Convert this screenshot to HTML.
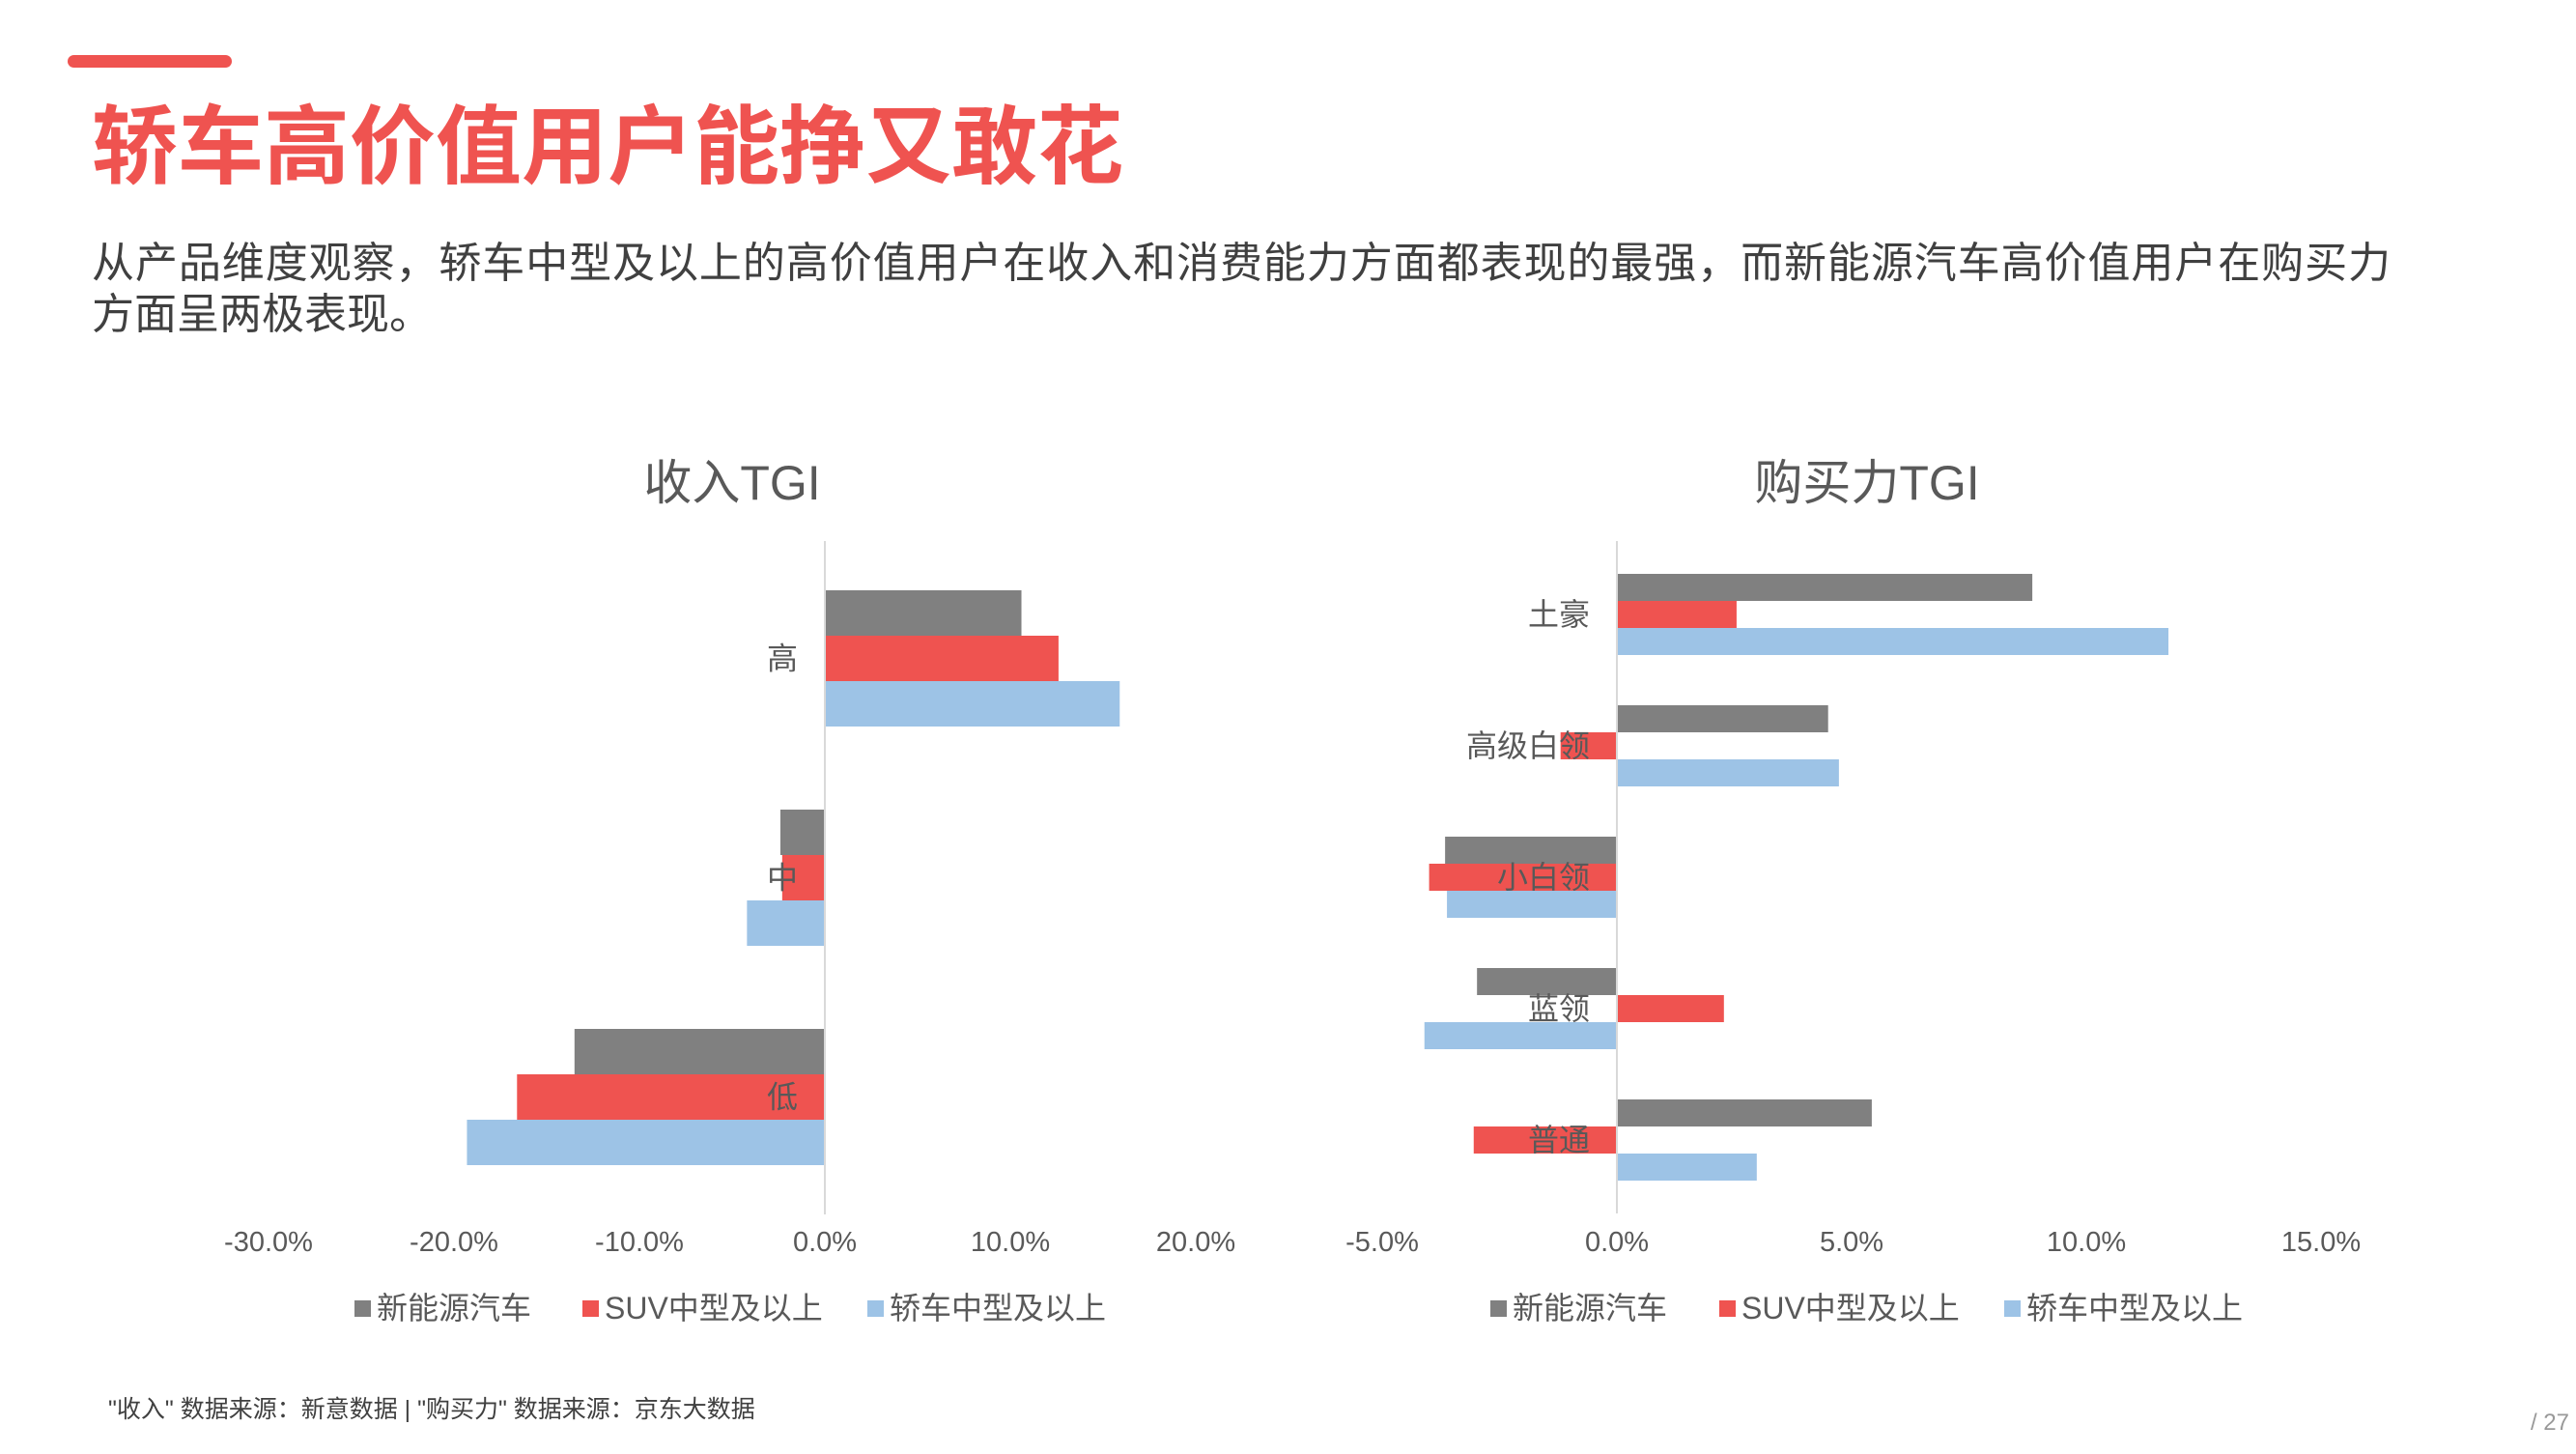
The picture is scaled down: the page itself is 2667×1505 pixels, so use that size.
<!DOCTYPE html>
<html><head><meta charset="utf-8"><style>
body{margin:0;background:#fff;}
svg text{font-family:"Liberation Sans","Noto Sans CJK SC",sans-serif;}
</style></head><body>
<svg id="root" width="2667" height="1500" viewBox="0 0 2667 1500" xmlns="http://www.w3.org/2000/svg">
<rect x="70" y="57" width="170" height="13" rx="6.5" fill="#ef5350"/>
<text x="95" y="183" font-size="89" font-weight="bold" fill="#ef5350">轿车高价值用户能挣又敢花</text>
<text x="95" y="287" font-size="44" fill="#404040" textLength="2380">从产品维度观察，轿车中型及以上的高价值用户在收入和消费能力方面都表现的最强，而新能源汽车高价值用户在购买力</text>
<text x="95" y="340" font-size="44" fill="#404040">方面呈两极表现。</text>
<text x="758" y="517" font-size="50" fill="#595959" text-anchor="middle">收入TGI</text>
<text x="1933" y="517" font-size="50" fill="#595959" text-anchor="middle">购买力TGI</text>
<g id="c1"></g>
<g id="c2"></g>
<text x="112" y="1467" font-size="25" fill="#404040">"收入" 数据来源：新意数据  |   "购买力" 数据来源：京东大数据</text>
<text x="2660" y="1480" font-size="24" fill="#999" text-anchor="end">/ 27</text>
</svg>
<script>
const seriesNames = ["新能源汽车","SUV中型及以上","轿车中型及以上"];
const colors = ["#808080","#ef5350","#9dc3e6"];
const incomeCats = ["高","中","低"];
const incomeNEV = [10.6,-2.4,-13.5];
const incomeSUV = [12.6,-2.3,-16.6];
const incomeSedan = [15.9,-4.2,-19.3];
const incomeTicks = [-30,-20,-10,0,10,20];
const buyCats = ["土豪","高级白领","小白领","蓝领","普通"];
const buyNEV = [8.85,4.5,-3.66,-2.98,5.43];
const buySUV = [2.55,-1.2,-4.0,2.28,-3.05];
const buySedan = [11.75,4.73,-3.62,-4.1,2.98];
const buyTicks = [-5,0,5,10,15];
const NS="http://www.w3.org/2000/svg";
function mk(tag,attrs,parent){const e=document.createElementNS(NS,tag);for(const k in attrs)e.setAttribute(k,attrs[k]);parent.appendChild(e);return e;}
function chart(g,cats,series,ticks,opt){
  const x=v=>opt.x0+v*opt.pxPer;
  const n=cats.length, band=(opt.yBot-opt.yTop)/n;
  const bh=opt.bh;
  series.forEach((vals,si)=>{
    vals.forEach((v,ci)=>{
      const cy=opt.yTop+band*(ci+0.5);
      const y=cy-1.5*bh+si*bh;
      const r=mk('rect',{x:Math.min(x(0),x(v)),y:y,width:Math.abs(x(v)-x(0)),height:bh,fill:colors[si]},g);
      
      
    });
  });
  const ax=mk('line',{x1:x(0),x2:x(0),y1:opt.yTop-8,y2:opt.yBot+8,stroke:'#d9d9d9','stroke-width':2},g);
  
  
  cats.forEach((c,ci)=>{
    const cy=opt.yTop+band*(ci+0.5);
    const t=mk('text',{x:x(0)-28,y:cy+11,'font-size':32,fill:'#595959','text-anchor':'end'},g);
    t.textContent=c;
    
    
  });
  ticks.forEach(v=>{
    const t=mk('text',{x:x(v),y:1295,'font-size':29,fill:'#595959','text-anchor':'middle'},g);
    t.textContent=v.toFixed(1)+'%';
    
    
  });
  opt.legX.forEach((lx,i)=>{
    const r=mk('rect',{x:lx,y:1346,width:17,height:17,fill:colors[i]},g);
    
    
    const t=mk('text',{x:lx+23,y:1365,'font-size':32,fill:'#595959'},g);
    t.textContent=seriesNames[i];
    
    
  });
}
chart(document.getElementById('c1'),incomeCats,[incomeNEV,incomeSUV,incomeSedan],incomeTicks,
  {x0:854,pxPer:19.2,yTop:568,yBot:1249,bh:47,legX:[367,603,898]});
chart(document.getElementById('c2'),buyCats,[buyNEV,buySUV,buySedan],buyTicks,
  {x0:1674,pxPer:48.6,yTop:568,yBot:1248,bh:28,legX:[1543,1780,2075]});
</script>
</body></html>
